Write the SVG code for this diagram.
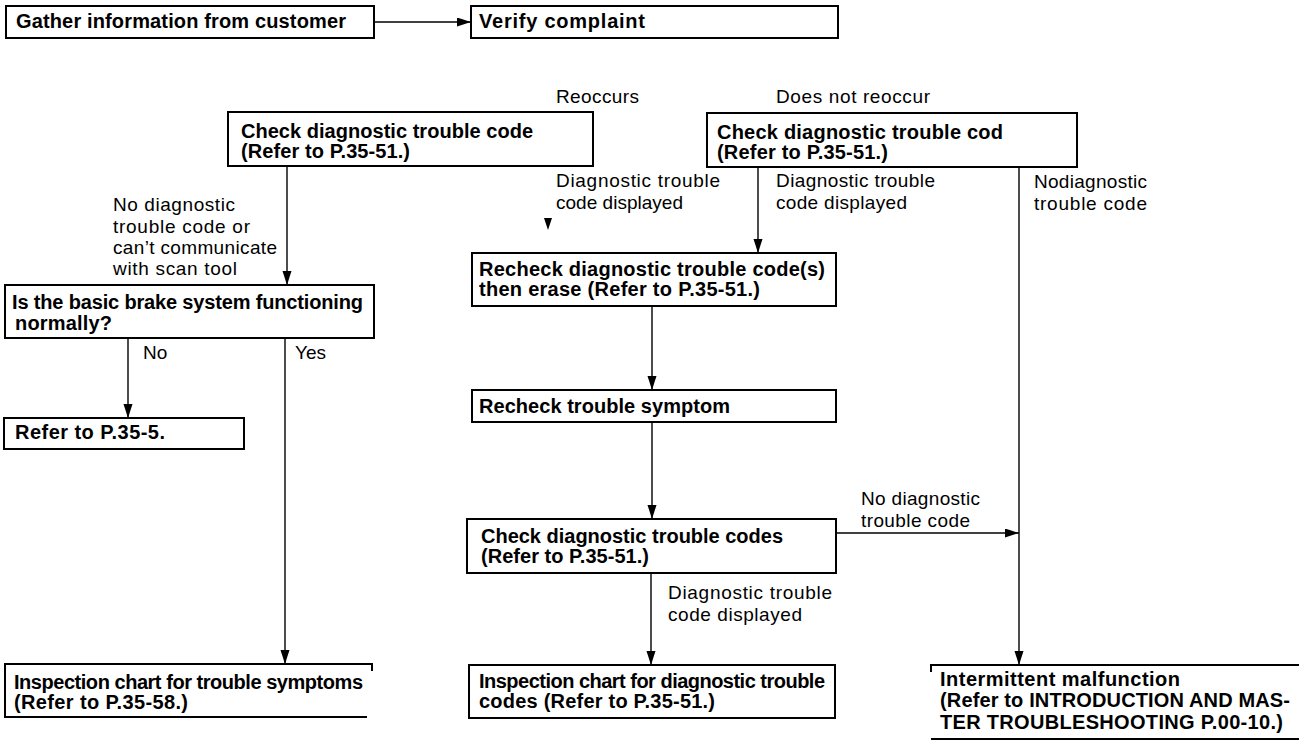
<svg xmlns="http://www.w3.org/2000/svg" width="1299" height="740" viewBox="0 0 1299 740">
<defs>
<style>
.box{fill:#fff;stroke:#000;stroke-width:2}
.open{fill:none;stroke:#000;stroke-width:2}
.b{font-family:"Liberation Sans",Arial,sans-serif;font-weight:bold;font-size:20px;fill:#000}
.r{font-family:"Liberation Sans",Arial,sans-serif;font-size:19px;fill:#000}
.c{fill:none;stroke:#000;stroke-width:1.4}
</style>
<marker id="av" markerUnits="userSpaceOnUse" markerWidth="16" markerHeight="16" viewBox="0 0 16 16" refX="14" refY="4.5" orient="auto">
<path d="M0,0 L14,4.5 L0,9 Z" fill="#000"/>
</marker>
</defs>
<rect width="1299" height="740" fill="#fff"/>

<g id="connectors">
<line class="c" x1="374" y1="22" x2="471" y2="22" marker-end="url(#av)"/>
<line class="c" x1="287" y1="166" x2="287" y2="285" marker-end="url(#av)"/>
<path d="M544,218 L552,218 L548,230 Z" fill="#000"/>
<line class="c" x1="758" y1="167" x2="758" y2="253" marker-end="url(#av)"/>
<line class="c" x1="1019" y1="167" x2="1019" y2="665" marker-end="url(#av)"/>
<line class="c" x1="128" y1="338" x2="128" y2="418" marker-end="url(#av)"/>
<line class="c" x1="285" y1="338" x2="285" y2="664" marker-end="url(#av)"/>
<line class="c" x1="652" y1="306" x2="652" y2="390" marker-end="url(#av)"/>
<line class="c" x1="652" y1="422" x2="652" y2="519" marker-end="url(#av)"/>
<line class="c" x1="836" y1="533" x2="1019" y2="533" marker-end="url(#av)"/>
<line class="c" x1="651" y1="573" x2="651" y2="665" marker-end="url(#av)"/>
</g>

<g id="labels">
<text class="r" x="556" y="103" textLength="83" lengthAdjust="spacing">Reoccurs</text>
<text class="r" x="776" y="103" textLength="154" lengthAdjust="spacing">Does not reoccur</text>
<text class="r" x="556" y="187" textLength="164" lengthAdjust="spacing">Diagnostic trouble</text>
<text class="r" x="556" y="209" textLength="127" lengthAdjust="spacing">code displayed</text>
<text class="r" x="776" y="187" textLength="159" lengthAdjust="spacing">Diagnostic trouble</text>
<text class="r" x="776" y="209" textLength="131" lengthAdjust="spacing">code displayed</text>
<text class="r" x="1034" y="188" textLength="113" lengthAdjust="spacing">Nodiagnostic</text>
<text class="r" x="1034" y="210" textLength="113" lengthAdjust="spacing">trouble code</text>
<text class="r" x="113" y="211" textLength="122" lengthAdjust="spacing">No diagnostic</text>
<text class="r" x="113" y="233" textLength="137" lengthAdjust="spacing">trouble code or</text>
<text class="r" x="113" y="254" textLength="164" lengthAdjust="spacing">can’t communicate</text>
<text class="r" x="113" y="275" textLength="124" lengthAdjust="spacing">with scan tool</text>
<text class="r" x="143" y="359">No</text>
<text class="r" x="295" y="359">Yes</text>
<text class="r" x="861" y="505" textLength="119" lengthAdjust="spacing">No diagnostic</text>
<text class="r" x="861" y="527" textLength="109" lengthAdjust="spacing">trouble code</text>
<text class="r" x="668" y="599" textLength="164" lengthAdjust="spacing">Diagnostic trouble</text>
<text class="r" x="668" y="621" textLength="134" lengthAdjust="spacing">code displayed</text>
</g>

<g id="gather">
<rect class="box" x="6" y="6" width="368" height="32"/>
<text class="b" x="16" y="28" textLength="330" lengthAdjust="spacing">Gather information from customer</text>
</g>
<g id="verify">
<rect class="box" x="471" y="6" width="367" height="32"/>
<text class="b" x="479" y="28" textLength="166" lengthAdjust="spacing">Verify complaint</text>
</g>
<g id="check-left">
<rect class="box" x="228" y="112" width="365" height="54"/>
<text class="b" x="241" y="138" textLength="292" lengthAdjust="spacing">Check diagnostic trouble code</text>
<text class="b" x="241" y="158" textLength="169" lengthAdjust="spacing">(Refer to P.35-51.)</text>
</g>
<g id="check-right">
<rect class="box" x="707" y="113" width="370" height="54"/>
<text class="b" x="717" y="139" textLength="286" lengthAdjust="spacing">Check diagnostic trouble cod</text>
<text class="b" x="717" y="159" textLength="171" lengthAdjust="spacing">(Refer to P.35-51.)</text>
</g>
<g id="recheck-codes">
<rect class="box" x="472" y="253" width="364" height="53"/>
<text class="b" x="479" y="276" textLength="346" lengthAdjust="spacing">Recheck diagnostic trouble code(s)</text>
<text class="b" x="479" y="296" textLength="281" lengthAdjust="spacing">then erase (Refer to P.35-51.)</text>
</g>
<g id="basic-brake">
<rect class="box" x="5" y="285" width="369" height="53"/>
<text class="b" x="12" y="309" textLength="351" lengthAdjust="spacing">Is the basic brake system functioning</text>
<text class="b" x="15" y="330" textLength="97" lengthAdjust="spacing">normally?</text>
</g>
<g id="refer-35-5">
<rect class="box" x="4" y="418" width="240" height="31"/>
<text class="b" x="15" y="439" textLength="150" lengthAdjust="spacing">Refer to P.35-5.</text>
</g>
<g id="recheck-symptom">
<rect class="box" x="472" y="390" width="364" height="32"/>
<text class="b" x="479" y="413" textLength="251" lengthAdjust="spacing">Recheck trouble symptom</text>
</g>
<g id="check-codes">
<rect class="box" x="467" y="519" width="369" height="54"/>
<text class="b" x="481" y="543" textLength="302" lengthAdjust="spacing">Check diagnostic trouble codes</text>
<text class="b" x="481" y="563" textLength="168" lengthAdjust="spacing">(Refer to P.35-51.)</text>
</g>
<g id="inspection-symptoms">
<path class="open" d="M372,671 V664 H5 V717 H367"/>
<text class="b" x="14" y="689" textLength="349" lengthAdjust="spacing">Inspection chart for trouble symptoms</text>
<text class="b" x="14" y="709" textLength="174" lengthAdjust="spacing">(Refer to P.35-58.)</text>
</g>
<g id="inspection-codes">
<rect class="box" x="469" y="665" width="366" height="53"/>
<text class="b" x="479" y="688" textLength="346" lengthAdjust="spacing">Inspection chart for diagnostic trouble</text>
<text class="b" x="479" y="708" textLength="236" lengthAdjust="spacing">codes (Refer to P.35-51.)</text>
</g>
<g id="intermittent">
<path class="open" d="M931,672 V665 H1299 M931,739 H1299"/>
<text class="b" x="940" y="686" textLength="240" lengthAdjust="spacing">Intermittent malfunction</text>
<text class="b" x="940" y="707" textLength="350" lengthAdjust="spacing">(Refer to INTRODUCTION AND MAS-</text>
<text class="b" x="940" y="729" textLength="343" lengthAdjust="spacing">TER TROUBLESHOOTING P.00-10.)</text>
</g>
</svg>
